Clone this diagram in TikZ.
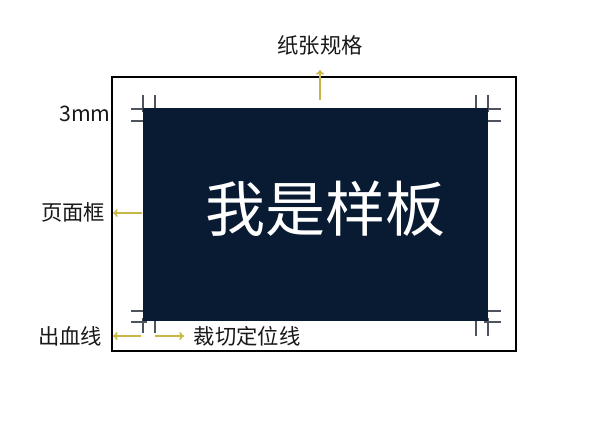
\documentclass[tikz,border=0pt]{standalone}
\usepackage{fontspec}
\setmainfont{Noto Sans CJK SC}
\usetikzlibrary{arrows.meta}
\definecolor{navy}{RGB}{8,27,51}
\definecolor{markgrey}{RGB}{78,84,94}
\definecolor{arrowyellow}{RGB}{200,182,70}
\definecolor{labeltext}{RGB}{25,25,25}
\tikzset{
  labeltxt/.style={text=labeltext, font=\fontsize{16pt}{17pt}\selectfont, inner sep=0pt},
  cropmark/.style={draw=markgrey, line width=2.2pt},
  pointer/.style={draw=arrowyellow, line width=1.2pt, -{To[length=3.5pt,width=6pt]}},
  paperframe/.style={draw=black, line width=1.6pt},
  template/.style={fill=navy, draw=none}
}
\begin{document}
\begin{tikzpicture}[x=0.75pt,y=-0.75pt]
\useasboundingbox (0,0) rectangle (600,430);
\fill[white] (0,0) rectangle (600,430);
% paper frame
\draw[paperframe] (112,77) rectangle (516,351);
% crop marks (drawn under the template)
% top-left
\draw[cropmark] (143,95) -- (143,112) (155,95) -- (155,112);
\draw[cropmark] (131,109) -- (147,109) (131,121) -- (147,121);
% top-right
\draw[cropmark] (476,95) -- (476,112) (488,95) -- (488,112);
\draw[cropmark] (484,109) -- (501,109) (484,121) -- (501,121);
% bottom-right
\draw[cropmark] (484,311) -- (501,311) (484,322) -- (501,322);
\draw[cropmark] (476,318) -- (476,336) (488,318) -- (488,336);
% bottom-left
\draw[cropmark] (131,311) -- (147,311) (131,322) -- (147,322);
\draw[cropmark] (143,318) -- (143,333) (155,318) -- (155,333);
% template
\node[template, minimum width=345*0.75pt, minimum height=213*0.75pt, inner sep=0pt, anchor=north west] (tpl) at (143,108) {};
\node[text=white, font=\fontsize{45pt}{46pt}\selectfont, inner sep=0pt] (title) at (325,209) {我是样板};
% labels
\node[labeltxt] (paper) at (320,45) {纸张规格};
\node[labeltxt] (mm) at (85,114) {3mm};
\node[labeltxt] (page) at (73,212) {页面框};
\node[labeltxt] (bleed) at (70,336) {出血线};
\node[labeltxt] (crop) at (247,336) {裁切定位线};
% pointer coordinates
\coordinate (pA) at (320,100);
\coordinate (pB) at (320,70);
\coordinate (gA) at (142,213);
\coordinate (gB) at (113,213);
\coordinate (bA) at (141,336);
\coordinate (bB) at (113,336);
\coordinate (cA) at (155,336);
\coordinate (cB) at (184,336);
\draw[pointer] (pA) -- (pB);
\draw[pointer] (gA) -- (gB);
\draw[pointer] (bA) -- (bB);
\draw[pointer] (cA) -- (cB);
\end{tikzpicture}
\end{document}
